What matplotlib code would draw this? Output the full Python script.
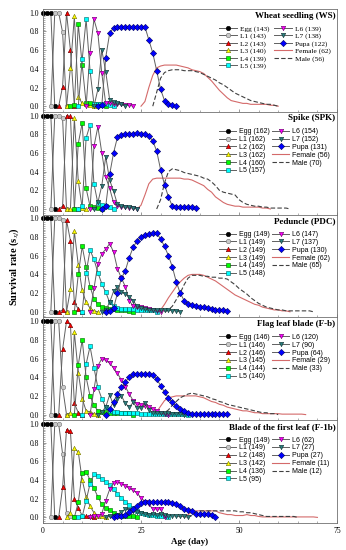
import numpy as np
import matplotlib.pyplot as plt
from matplotlib.ticker import MultipleLocator

plt.rcParams.update({
    'font.family': 'Liberation Serif',
    'mathtext.fontset': 'stix',
    'axes.linewidth': 0.6,
    'axes.edgecolor': '#707070',
})

# each series is (first day, daily survival values)
# --- Wheat seedling (WS)
ws_egg = (0, [1, 1, 1, 0])
ws_l1 = (2, [0, 1, 1, 0.79, 0])
ws_l2 = (4, [0, 0.21, 1, 0.6, 0])
ws_l3 = (6, [0, 0.41, 0.96, 0.1, 0.03, 0.02, 0.01, 0])
ws_l4 = (7, [0, 0.01, 0.88, 0.44, 0.03, 0.03, 0.02, 0.02, 0.01, 0])
ws_l5 = (9, [0, 0.5, 0.93, 0.38, 0.02, 0.02, 0.02, 0.02, 0.01, 0])
ws_l6 = (11, [0, 0.57, 0.93, 0.78, 0.35, 0.03, 0.03, 0.02, 0.02, 0.02, 0.01, 0.01, 0])
ws_l7 = (13, [0, 0.18, 0.6, 0.37, 0.07, 0.04, 0.03, 0.02, 0])
ws_pupa = (14, [0, 0.01, 0.52, 0.78, 0.84, 0.85, 0.85, 0.85, 0.85, 0.85, 0.85, 0.85, 0.85,
                0.71, 0.57, 0.38, 0.18, 0.06, 0.02, 0.01, 0])
ws_female = (25, [0, 0.05, 0.2, 0.33, 0.41, 0.43, 0.44, 0.44, 0.44, 0.44, 0.43, 0.42, 0.41,
                  0.39, 0.38, 0.37, 0.35, 0.31, 0.27, 0.22, 0.17, 0.13, 0.09, 0.06, 0.05,
                  0.04, 0.03, 0.03, 0.02, 0.02, 0.02, 0.02, 0.02, 0.01, 0.01, 0])
ws_male = (28, [0, 0.15, 0.3, 0.36, 0.38, 0.39, 0.39, 0.39, 0.38, 0.38, 0.38, 0.37, 0.36,
                0.34, 0.32, 0.3, 0.28, 0.25, 0.23, 0.2, 0.17, 0.14, 0.12, 0.1, 0.08, 0.06,
                0.05, 0.04, 0.03, 0.02, 0.02, 0.01, 0])
ws_n = [143, 143, 143, 140, 139, 139, 139, 138, 122, 62, 56]

# --- Spike (SPK)
spk_egg = (0, [1, 1, 1, 0])
spk_l1 = (2, [0, 1, 1, 0.97, 0])
spk_l2 = (4, [0, 0.03, 1, 0.99, 0.01, 0])
spk_l3 = (6, [0, 0, 0.97, 0.3, 0.01, 0])
spk_l4 = (8, [0, 0.7, 0.92, 0.22, 0.03, 0.02, 0.01, 0])
spk_l5 = (9, [0, 0.03, 0.76, 0.9, 0.27, 0.06, 0.04, 0.03, 0.02, 0])
spk_l6 = (12, [0, 0.67, 0.88, 0.6, 0.34, 0.22, 0.07, 0.03, 0.02, 0.02, 0.01, 0.01, 0])
spk_l7 = (13, [0, 0.07, 0.25, 0.56, 0.31, 0.19, 0.05, 0.03, 0.02, 0.02, 0.01, 0])
spk_pupa = (15, [0, 0.03, 0.37, 0.6, 0.77, 0.79, 0.8, 0.8, 0.8, 0.81, 0.8, 0.8, 0.78,
                 0.73, 0.62, 0.42, 0.26, 0.13, 0.03, 0.02, 0.02, 0.02, 0.02, 0.02, 0.01])
spk_female = (24, [0, 0.04, 0.15, 0.27, 0.32, 0.33, 0.33, 0.33, 0.33, 0.33, 0.33, 0.33,
                   0.32, 0.32, 0.31, 0.29, 0.27, 0.25, 0.21, 0.18, 0.13, 0.1, 0.07, 0.05,
                   0.04, 0.03, 0.03, 0.02, 0.02, 0.02, 0.02, 0.02, 0.01, 0.01, 0])
spk_male = (29, [0, 0.1, 0.28, 0.4, 0.43, 0.42, 0.41, 0.39, 0.38, 0.37, 0.36, 0.35, 0.33,
                 0.32, 0.29, 0.25, 0.2, 0.18, 0.17, 0.16, 0.15, 0.1, 0.07, 0.05, 0.04,
                 0.03, 0.03, 0.02, 0.02, 0.01, 0.01, 0.01, 0.01, 0.01, 0])
spk_n = [162, 162, 162, 162, 160, 157, 154, 152, 131, 56, 70]

# --- Peduncle (PDC)
pdc_egg = (0, [1, 1, 1, 0])
pdc_l1 = (2, [0, 1, 1, 0.98, 0])
pdc_l2 = (4, [0, 0.02, 0.98, 0.76, 0.1, 0.03, 0])
pdc_l3 = (6, [0, 0.24, 0.86, 0.5, 0.23, 0.1, 0.04, 0.01, 0])
pdc_l4 = (8, [0, 0.4, 0.7, 0.48, 0.27, 0.14, 0.08, 0.05, 0.04, 0.03, 0.03, 0.02, 0.02,
              0.02, 0.01, 0])
pdc_l5 = (10, [0, 0.42, 0.66, 0.56, 0.42, 0.3, 0.21, 0.1, 0.06, 0.04, 0.03, 0.03, 0.03,
               0.03, 0.02, 0.02, 0.02, 0.02, 0.02, 0])
pdc_l6 = (12, [0, 0.25, 0.51, 0.62, 0.67, 0.73, 0.64, 0.46, 0.36, 0.27, 0.12, 0.06, 0.05,
               0.05, 0.04, 0.03, 0.02, 0.01, 0])
pdc_l7 = (15, [0, 0.02, 0.1, 0.22, 0.27, 0.21, 0.19, 0.16, 0.12, 0.06, 0.04, 0.03, 0.02,
               0.02, 0.02, 0.02, 0.02, 0.02, 0.01, 0.01, 0])
pdc_pupa = (16, [0, 0.01, 0.04, 0.2, 0.36, 0.44, 0.58, 0.69, 0.76, 0.8, 0.82, 0.83, 0.84,
                 0.84, 0.78, 0.7, 0.6, 0.48, 0.32, 0.2, 0.12, 0.08, 0.07, 0.06, 0.05, 0.05,
                 0.04, 0.03, 0.02, 0.02, 0.02, 0.01])
pdc_female = (29, [0, 0.02, 0.08, 0.15, 0.21, 0.27, 0.32, 0.36, 0.39, 0.4, 0.4, 0.4, 0.39,
                   0.37, 0.35, 0.33, 0.3, 0.27, 0.24, 0.21, 0.18, 0.16, 0.14, 0.12, 0.1,
                   0.08, 0.07, 0.05, 0.04, 0.03, 0.02, 0.02, 0.01, 0.01, 0])
pdc_male = (31, [0, 0.02, 0.06, 0.13, 0.2, 0.29, 0.36, 0.39, 0.39, 0.39, 0.38, 0.38, 0.37,
                 0.37, 0.36, 0.36, 0.35, 0.32, 0.29, 0.25, 0.22, 0.19, 0.15, 0.12, 0.09,
                 0.07, 0.05, 0.04, 0.03, 0.02, 0.02, 0.01, 0.01, 0.01, 0.01, 0.01, 0.01,
                 0.01, 0])
pdc_n = [149, 149, 149, 149, 149, 148, 147, 137, 130, 62, 65]

# --- Flag leaf blade (F-b)
fb_egg = (0, [1, 1, 1, 0])
fb_l1 = (2, [0, 1, 1, 0.29, 0])
fb_l2 = (4, [0, 0.7, 1, 0.96, 0.12, 0.02, 0])
fb_l3 = (6, [0, 0.02, 0.88, 0.45, 0.17, 0.04, 0.03, 0.01, 0])
fb_l4 = (8, [0, 0.53, 0.8, 0.4, 0.2, 0.1, 0.04, 0.03, 0.03, 0.02, 0.02, 0.02, 0.02, 0.02,
             0.02, 0])
fb_l5 = (10, [0, 0.54, 0.73, 0.5, 0.29, 0.17, 0.08, 0.04, 0.03, 0.03, 0.02, 0.02, 0.02,
              0.02, 0.02, 0.01, 0.01, 0.01, 0.01, 0.01, 0.01, 0.01, 0.01, 0.01, 0.01,
              0.01, 0.01, 0])
fb_l6 = (12, [0, 0.27, 0.52, 0.6, 0.58, 0.55, 0.5, 0.44, 0.37, 0.3, 0.22, 0.15, 0.11,
              0.1, 0.09, 0.08, 0.06, 0.04, 0.02, 0.01, 0])
fb_l7 = (14, [0, 0.03, 0.08, 0.21, 0.1, 0.17, 0.2, 0.12, 0.08, 0.13, 0.07, 0.07, 0.12,
              0.05, 0.02, 0.02, 0.02, 0.02, 0.02, 0.01, 0.01, 0.01, 0])
fb_pupa = (16, [0, 0.06, 0.14, 0.22, 0.29, 0.35, 0.4, 0.43, 0.43, 0.43, 0.43, 0.43, 0.42,
                0.38, 0.31, 0.24, 0.18, 0.13, 0.09, 0.06, 0.04, 0.02, 0.01, 0.01, 0.01,
                0.01, 0.01, 0.01, 0.01, 0.01, 0.01, 0.01])
fb_female = (28, [0, 0.03, 0.09, 0.15, 0.18, 0.19, 0.2, 0.2, 0.2, 0.2, 0.2, 0.2, 0.19,
                  0.18, 0.16, 0.14, 0.13, 0.11, 0.1, 0.08, 0.07, 0.06, 0.05, 0.04, 0.04,
                  0.03, 0.02, 0.02, 0.01, 0.01, 0.01, 0.01, 0.01, 0.005, 0.005, 0.005,
                  0.005, 0.005, 0.005, 0])
fb_male = (30, [0, 0.02, 0.05, 0.1, 0.14, 0.18, 0.2, 0.22, 0.23, 0.22, 0.21, 0.2, 0.19,
                0.17, 0.16, 0.14, 0.13, 0.11, 0.1, 0.09, 0.08, 0.07, 0.06, 0.05, 0.04,
                0.03, 0.02, 0.02, 0.01, 0.01, 0])
fb_n = [146, 146, 146, 145, 144, 140, 120, 90, 64, 29, 33]

# --- Blade of the first leaf (F-1b)
f1b_egg = (0, [1, 1, 1, 0])
f1b_l1 = (2, [0, 1, 1, 0.68, 0.05, 0.02, 0])
f1b_l2 = (4, [0, 0.32, 0.94, 0.92, 0.2, 0.1, 0.02, 0.01, 0.01, 0])
f1b_l3 = (6, [0, 0.05, 0.74, 0.7, 0.4, 0.22, 0.12, 0.05, 0.02, 0.01, 0])
f1b_l4 = (8, [0, 0.16, 0.48, 0.49, 0.4, 0.31, 0.22, 0.14, 0.1, 0.08, 0.05, 0.03, 0.02,
              0.01, 0.01, 0.01, 0])
f1b_l5 = (9, [0, 0.01, 0.18, 0.36, 0.46, 0.44, 0.41, 0.38, 0.35, 0.3, 0.25, 0.21, 0.17,
              0.13, 0.1, 0.07, 0.05, 0.04, 0.03, 0.03, 0.02, 0.02, 0.01, 0])
f1b_l6 = (12, [0, 0.01, 0.01, 0.04, 0.18, 0.3, 0.37, 0.38, 0.36, 0.34, 0.31, 0.29, 0.26,
               0.21, 0.17, 0.14, 0.09, 0.09, 0.09, 0])
f1b_l7 = (16, [0, 0.01, 0.02, 0.03, 0.06, 0.09, 0.08, 0.07, 0.06, 0.05, 0.04, 0.03, 0.04,
               0.03, 0.04, 0.03, 0.02, 0.02, 0.01, 0.01, 0.01, 0])
f1b_pupa = (18, [0, 0.01, 0.02, 0.03, 0.06, 0.09, 0.12, 0.15, 0.16, 0.16, 0.17, 0.17,
                 0.17, 0.16, 0.16, 0.15, 0.14, 0.12, 0.09, 0.08, 0.07, 0.04, 0.04, 0.04,
                 0.04, 0.03, 0])
f1b_female = (36, [0, 0.03, 0.06, 0.07, 0.07, 0.07, 0.07, 0.07, 0.07, 0.05, 0.04, 0.03,
                   0.03, 0.02, 0.02, 0.02, 0.03, 0.02, 0.02, 0.01, 0.005, 0.005, 0.005,
                   0.005, 0.005, 0.005, 0.005, 0.005, 0.005, 0.005, 0.005, 0.005, 0.005,
                   0.005, 0])
f1b_male = (37, [0, 0.02, 0.05, 0.07, 0.07, 0.07, 0.07, 0.07, 0.07, 0.07, 0.07, 0.07,
                 0.07, 0.06, 0.06, 0.05, 0.05, 0.04, 0.03, 0.02, 0.01, 0.01, 0.01, 0.01,
                 0.01, 0.01, 0.01, 0.01, 0])
f1b_n = [149, 149, 148, 142, 136, 95, 62, 27, 27, 11, 12]

STAGES = ['Egg', 'L1', 'L2', 'L3', 'L4', 'L5', 'L6', 'L7', 'Pupa', 'Female', 'Male']

# marker look for each immature stage (sigmaplot-ish)
STYLE = {
    'Egg':  dict(marker='o', mfc='black', mec='black'),
    'L1':   dict(marker='o', mfc='#c8c8c8', mec='#707070'),
    'L2':   dict(marker='^', mfc='#ff0000', mec='#600000'),
    'L3':   dict(marker='^', mfc='#ffff00', mec='#707000'),
    'L4':   dict(marker='s', mfc='#00ff00', mec='#006000'),
    'L5':   dict(marker='s', mfc='#00ffff', mec='#006060'),
    'L6':   dict(marker='v', mfc='#ff00ff', mec='#600060'),
    'L7':   dict(marker='v', mfc='#2b7f7f', mec='#103030'),
    'Pupa': dict(marker='D', mfc='#0000ff', mec='#000060'),
}

panels = [
    ('Wheat seedling (WS)', [ws_egg, ws_l1, ws_l2, ws_l3, ws_l4, ws_l5, ws_l6, ws_l7,
                             ws_pupa, ws_female, ws_male], ws_n, 'Liberation Serif'),
    ('Spike (SPK)', [spk_egg, spk_l1, spk_l2, spk_l3, spk_l4, spk_l5, spk_l6, spk_l7,
                     spk_pupa, spk_female, spk_male], spk_n, 'Liberation Sans'),
    ('Peduncle (PDC)', [pdc_egg, pdc_l1, pdc_l2, pdc_l3, pdc_l4, pdc_l5, pdc_l6, pdc_l7,
                        pdc_pupa, pdc_female, pdc_male], pdc_n, 'Liberation Sans'),
    ('Flag leaf blade (F-b)', [fb_egg, fb_l1, fb_l2, fb_l3, fb_l4, fb_l5, fb_l6, fb_l7,
                               fb_pupa, fb_female, fb_male], fb_n, 'Liberation Sans'),
    ('Blade of the first leaf (F-1b)', [f1b_egg, f1b_l1, f1b_l2, f1b_l3, f1b_l4, f1b_l5,
                                        f1b_l6, f1b_l7, f1b_pupa, f1b_female, f1b_male],
     f1b_n, 'Liberation Sans'),
]


def draw_panel(ax, title, series, counts, legend_family):
    serif = legend_family == 'Liberation Serif'
    for name, (d0, vals), n in zip(STAGES, series, counts):
        days = np.arange(d0, d0 + len(vals))
        label = f'{name} ({n})'
        if name == 'Female':
            ax.plot(days, vals, color='#d46a6a', lw=0.8, zorder=1.5, label=label)
        elif name == 'Male':
            ax.plot(days, vals, color='#404040', lw=0.8, ls=(0, (4, 2)), zorder=1.5,
                    label=label)
        else:
            ax.plot(days, vals, color='#606060', lw=0.7, ms=3.2, mew=0.4,
                    clip_on=False, label=label, **STYLE[name])

    ax.set_xlim(0, 75)
    ax.set_ylim(-0.06, 1.04)
    ax.set_yticks(np.arange(0, 1.01, 0.2))
    ax.set_yticklabels([f'{v:.1f}' for v in np.arange(0, 1.01, 0.2)])
    ax.set_xticks([0, 25, 50, 75])
    ax.yaxis.set_minor_locator(MultipleLocator(0.02))
    ax.xaxis.set_minor_locator(MultipleLocator(5))
    ax.tick_params(which='both', direction='in', color='#707070', labelsize=5.5, pad=3)
    ax.tick_params(which='major', length=2.2, width=0.5)
    ax.tick_params(which='minor', length=1.2, width=0.4)

    ax.text(0.995, 0.975, title, transform=ax.transAxes, ha='right', va='top',
            fontsize=6.5, fontweight='bold')
    ax.legend(ncol=2, loc='upper left', bbox_to_anchor=(0.6, 0.84), frameon=False,
              prop={'family': legend_family, 'size': 5.3 if serif else 5},
              handlelength=2.4, handletextpad=0.4, columnspacing=0.6 if serif else 0.4,
              labelspacing=0.12, borderpad=0, borderaxespad=0)


fig = plt.figure(figsize=(3.46, 5.5), dpi=100)
axs = fig.subplots(5, 1, sharex=True)
fig.subplots_adjust(left=43 / 346, right=337 / 346, top=1 - 9 / 550, bottom=1 - 523 / 550,
                    hspace=0)

for ax, (title, series, counts, fam) in zip(axs, panels):
    draw_panel(ax, title, series, counts, fam)

for ax in axs[:-1]:
    ax.tick_params(labelbottom=False)

axs[-1].set_xlabel('Age (day)', fontsize=6.5, fontweight='bold', labelpad=2)
fig.text(0.04, 0.515, 'Survival rate (s$_{xj}$)', rotation=90, ha='center', va='center',
         fontsize=7.5, fontweight='bold')

fig.savefig('out.png', dpi=100)
